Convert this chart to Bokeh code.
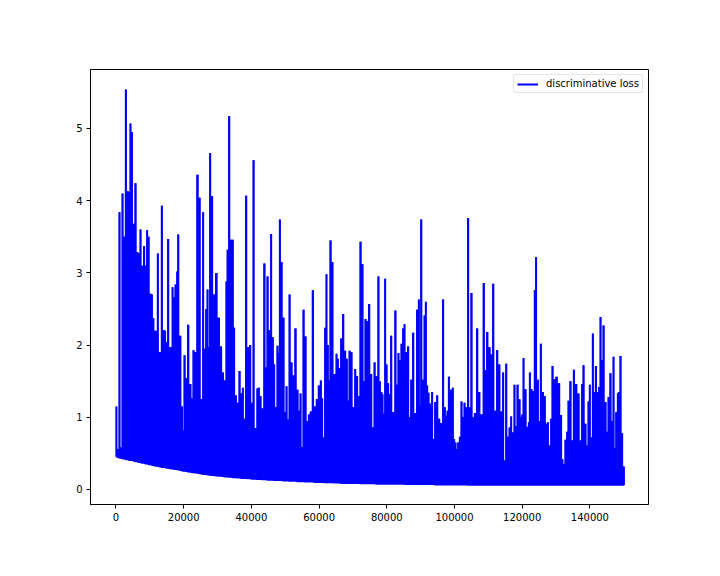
from bokeh.embed import file_html
from bokeh.models import FixedTicker, NumeralTickFormatter, Range1d
from bokeh.plotting import figure
from bokeh.resources import INLINE

# spikes: position, top of the spike, bottom of the spike
iteration = [
    100, 600, 1030, 1500, 1920, 2400, 2900, 3500, 3900, 4270,
    4700, 5200, 5760, 6300, 6800, 7240, 7700, 8320, 8800, 9200,
    9600, 10190, 10600, 11000, 11600, 12000, 12350, 12800, 13100, 13530,
    14100, 14500, 14900, 15400, 16000, 16350, 16700, 17100, 17580, 18100,
    18360, 19000, 19500, 19800, 20240, 20800, 21300, 22000, 22400, 22900,
    23400, 24080, 24670, 25300, 25750, 26200, 26650, 27030, 27500, 27800,
    28400, 28900, 29600, 30400, 31060, 31560, 32150, 32640, 32940, 33430,
    34020, 34500, 34900, 35400, 36000, 36480, 37070, 37470, 37860, 38450,
    39040, 39630, 40220, 40620, 41210, 41800, 42200, 42690, 43180, 43870,
    44270, 44760, 45350, 45840, 46330, 46730, 47220, 47710, 48100, 48400,
    48890, 49480, 49980, 50370, 50860, 51260, 51850, 52340, 53030, 53620,
    54110, 54510, 54950, 55390, 55990, 56480, 56970, 57560, 58150, 58740, 59330,
    59930, 60520, 60910, 61300, 61790, 62180, 62580, 62870, 63370, 63950,
    64350, 64740, 65140, 65530, 66020, 66520, 67110, 67700, 68190, 68590,
    68980, 69570, 70060, 70360, 70650, 71240, 71740, 72230, 72820, 73220,
    73710, 74200, 74790, 75380, 75970, 76370, 76960, 77550, 77940, 78440,
    78730, 79120, 79520, 79910, 80410, 80800, 81290, 81880, 82570, 82970,
    83460, 83850, 84350, 84840, 85230, 85630, 86320, 86810, 87200, 87790,
    88380, 88970, 89470, 89760, 90160, 90750, 91140, 91530, 91930, 92330,
    92720, 93010, 93400, 93890, 94290, 94880, 95470, 96060, 96650, 97140,
    97540, 97930, 98330, 98920, 99510, 99900, 100300, 100690, 101080, 101580,
    102070, 102560, 102950, 103450, 104040, 104430, 105020, 105510, 106010, 106700,
    107290, 107980, 108670, 109060, 109650, 110340, 110930, 111430, 112020, 112610,
    113200, 113890, 114380, 114870, 115270, 115860, 116250, 116750, 117240, 117730,
    118130, 118620, 119210, 119700, 120000, 120390, 120790, 120980, 121470, 121970,
    122260, 122750, 123150, 123740, 124100, 124610, 125100, 125490, 126080, 126680,
    127070, 127560, 128150, 128550, 128940, 129530, 130120, 130910, 131500, 131900,
    132290, 132780, 133280, 133670, 134260, 134750, 135250, 135930, 136620, 137210,
    137710, 138100, 138690, 139190, 139580, 139970, 140370, 140860, 141350, 141750,
    142340, 142730, 143130, 143620, 144010, 144610, 145100, 145490, 146080, 146570,
    146970, 147460, 147760, 148250, 148550, 149040, 149530, 149830, 150050,
]
peak_loss = [
    1.15, 0.56, 3.84, 0.58, 4.10, 3.50, 5.54, 4.13, 4.12, 5.07,
    4.95, 3.68, 4.24, 3.29, 3.27, 3.60, 3.10, 3.37, 3.10, 3.59,
    3.50, 2.71, 2.70, 2.37, 2.20, 2.20, 3.27, 1.90, 1.90, 3.93,
    2.21, 2.20, 2.04, 3.47, 1.97, 1.97, 2.80, 2.66, 2.84, 3.02,
    3.53, 2.13, 1.15, 0.82, 1.86, 1.54, 2.28, 1.46, 1.26, 1.93,
    1.90, 4.36, 4.04, 1.25, 3.84, 1.95, 2.50, 2.77, 1.97, 4.66,
    4.06, 2.70, 3.00, 2.38, 1.98, 1.62, 1.51, 2.88, 3.32, 5.17,
    3.46, 3.46, 2.24, 1.30, 1.20, 1.64, 1.33, 1.41, 0.98, 4.07,
    1.97, 2.00, 1.20, 4.56, 0.85, 1.40, 1.41, 1.29, 1.12, 3.13,
    1.69, 2.95, 2.21, 3.54, 2.11, 1.73, 1.14, 1.99, 1.89, 3.74,
    3.15, 2.38, 1.07, 1.43, 0.97, 2.70, 1.76, 1.58, 2.23, 1.38,
    1.09, 1.33, 0.59, 2.49, 2.12, 0.95, 1.04, 1.08, 2.76, 1.15, 1.25,
    1.44, 1.51, 1.26, 0.72, 2.24, 2.98, 2.00, 1.51, 3.45, 3.15,
    1.60, 1.60, 1.88, 1.81, 1.68, 2.09, 2.43, 1.92, 1.81, 1.23,
    1.92, 1.90, 1.14, 0.91, 1.67, 1.57, 1.29, 3.43, 3.12, 1.50,
    2.36, 2.33, 2.57, 1.60, 0.86, 1.76, 1.57, 2.95, 1.50, 1.35,
    1.32, 1.05, 2.92, 1.73, 1.47, 1.32, 2.13, 1.07, 2.48, 1.45,
    1.89, 1.79, 2.02, 2.23, 2.29, 1.90, 1.98, 1.00, 1.52, 2.17,
    1.06, 2.49, 2.63, 1.16, 3.74, 1.52, 2.41, 2.60, 1.44, 1.34,
    1.19, 1.14, 1.35, 0.70, 1.21, 1.30, 0.98, 0.92, 2.63, 1.14,
    1.02, 1.09, 1.56, 1.38, 1.41, 0.70, 0.65, 0.56, 0.65, 0.73,
    1.22, 1.00, 1.20, 1.14, 3.76, 1.14, 2.72, 1.00, 1.06, 2.23,
    1.35, 1.04, 2.86, 1.65, 2.18, 1.97, 1.87, 2.85, 1.09, 1.93,
    1.73, 1.08, 1.62, 0.40, 1.74, 0.73, 0.86, 1.01, 0.79, 1.45,
    0.88, 1.45, 1.25, 1.00, 1.04, 1.82, 0.68, 1.39, 0.87, 0.93,
    1.62, 1.39, 1.36, 2.76, 3.22, 1.52, 0.95, 2.02, 1.35, 1.29,
    0.91, 0.93, 0.61, 0.98, 1.71, 1.53, 1.56, 1.47, 1.03, 0.42,
    0.35, 0.69, 0.80, 1.23, 1.50, 0.68, 1.66, 1.46, 1.33, 0.68,
    1.46, 1.72, 0.91, 0.61, 1.22, 1.45, 0.72, 2.16, 1.35, 1.71,
    1.35, 1.42, 2.39, 1.79, 2.27, 1.21, 0.80, 1.28, 1.61, 0.95,
    1.84, 0.57, 1.07, 1.33, 1.35, 1.85, 0.78, 0.32, 0.32,
]
floor_loss = [
    0.46, 0.45, 0.44, 0.44, 0.43, 0.43, 0.42, 0.42, 0.41, 0.41,
    0.41, 0.40, 0.39, 0.39, 0.38, 0.38, 0.37, 0.37, 0.36, 0.36,
    0.35, 0.35, 0.34, 0.34, 0.33, 0.33, 0.33, 0.32, 0.32, 0.31,
    0.31, 0.31, 0.30, 0.30, 0.295, 0.29, 0.29, 0.285, 0.285, 0.28,
    0.28, 0.27, 0.265, 0.26, 0.26, 0.255, 0.25, 0.245, 0.24, 0.24,
    0.235, 0.23, 0.225, 0.22, 0.215, 0.215, 0.21, 0.21, 0.205, 0.205,
    0.20, 0.20, 0.195, 0.19, 0.19, 0.185, 0.18, 0.18, 0.18, 0.175,
    0.175, 0.17, 0.17, 0.17, 0.165, 0.165, 0.16, 0.16, 0.16, 0.16,
    0.155, 0.155, 0.15, 0.15, 0.15, 0.145, 0.145, 0.145, 0.14, 0.14,
    0.14, 0.135, 0.135, 0.135, 0.135, 0.13, 0.13, 0.13, 0.13, 0.13,
    0.13, 0.125, 0.125, 0.125, 0.125, 0.12, 0.12, 0.12, 0.12, 0.115,
    0.115, 0.115, 0.115, 0.115, 0.11, 0.11, 0.11, 0.11, 0.11, 0.105, 0.105,
    0.105, 0.105, 0.105, 0.10, 0.10, 0.10, 0.10, 0.10, 0.10, 0.10,
    0.095, 0.095, 0.095, 0.095, 0.095, 0.09, 0.09, 0.09, 0.09, 0.09,
    0.09, 0.09, 0.09, 0.09, 0.09, 0.09, 0.09, 0.085, 0.085, 0.085,
    0.085, 0.085, 0.085, 0.085, 0.085, 0.085, 0.08, 0.08, 0.08, 0.08,
    0.08, 0.08, 0.08, 0.08, 0.08, 0.08, 0.08, 0.08, 0.08, 0.08,
    0.08, 0.08, 0.08, 0.08, 0.08, 0.075, 0.075, 0.075, 0.075, 0.075,
    0.075, 0.075, 0.075, 0.075, 0.075, 0.075, 0.075, 0.075, 0.075, 0.075,
    0.075, 0.075, 0.075, 0.075, 0.07, 0.07, 0.07, 0.07, 0.07, 0.07,
    0.07, 0.07, 0.07, 0.07, 0.07, 0.07, 0.07, 0.07, 0.07, 0.07,
    0.07, 0.07, 0.07, 0.07, 0.065, 0.065, 0.065, 0.065, 0.065, 0.065,
    0.065, 0.065, 0.065, 0.065, 0.065, 0.065, 0.065, 0.065, 0.065, 0.065,
    0.065, 0.065, 0.065, 0.065, 0.065, 0.065, 0.065, 0.065, 0.065, 0.065,
    0.065, 0.065, 0.065, 0.065, 0.065, 0.065, 0.065, 0.065, 0.065, 0.065,
    0.065, 0.065, 0.065, 0.065, 0.065, 0.065, 0.065, 0.065, 0.065, 0.065,
    0.065, 0.065, 0.065, 0.065, 0.065, 0.065, 0.065, 0.065, 0.065, 0.065,
    0.065, 0.065, 0.065, 0.065, 0.065, 0.065, 0.065, 0.065, 0.065, 0.065,
    0.065, 0.065, 0.065, 0.065, 0.065, 0.065, 0.065, 0.065, 0.065, 0.065,
    0.065, 0.065, 0.065, 0.065, 0.065, 0.065, 0.065, 0.065, 0.065, 0.065,
    0.065, 0.065, 0.065, 0.065, 0.065, 0.065, 0.065, 0.065, 0.065,
]

x_ticks = [0, 20000, 40000, 60000, 80000, 100000, 120000, 140000]
y_ticks = [0, 1, 2, 3, 4, 5]

assert len(iteration) == len(peak_loss) == len(floor_loss)

# the loss keeps jumping from its floor to a spike and back
line_x = []
line_y = []
for step, top, bottom in zip(iteration, peak_loss, floor_loss):
    line_x += [step, step, step]
    line_y += [bottom, top, bottom]

p = figure(width=704, height=560,
           frame_width=558, frame_height=435,
           min_border_left=90, min_border_right=56,
           min_border_top=69, min_border_bottom=56,
           x_range=Range1d(-7533, 157312),
           y_range=Range1d(-0.208, 5.817),
           output_backend="svg",
           toolbar_location=None)

# at this scale the spikes touch, so the space under them is solid
p.varea_step(iteration, floor_loss, peak_loss,
             step_mode="center",
             fill_color="#0000ff")
p.line(line_x, line_y,
       line_color="#0000ff",
       line_width=2,
       legend_label="discriminative loss")

p.grid.visible = False
p.outline_line_color = "black"
p.outline_line_width = 1

for axis in (p.xaxis[0], p.yaxis[0]):
    axis.axis_line_color = "black"
    axis.major_tick_line_color = "black"
    axis.major_tick_in = 0
    axis.major_tick_out = 4
    axis.minor_tick_line_color = None
    axis.major_label_text_font = "DejaVu Sans"
    axis.major_label_text_font_size = "10px"
    axis.major_label_text_color = "black"
    axis.major_label_standoff = 4

p.xaxis[0].ticker = FixedTicker(ticks=x_ticks)
p.xaxis[0].formatter = NumeralTickFormatter(format="0")
p.yaxis[0].ticker = FixedTicker(ticks=y_ticks)

p.legend.location = "top_right"
p.legend.margin = 5
p.legend.padding = 3
p.legend.spacing = 0
p.legend.glyph_width = 21
p.legend.glyph_height = 10
p.legend.label_standoff = 8
p.legend.label_height = 10
p.legend.label_text_font = "DejaVu Sans"
p.legend.label_text_font_size = "10px"
p.legend.label_text_color = "black"
p.legend.border_line_color = "#cccccc"
p.legend.border_line_width = 1
p.legend.border_radius = 3
p.legend.background_fill_alpha = 0.8

open("out.html", "w").write(file_html(p, INLINE))
